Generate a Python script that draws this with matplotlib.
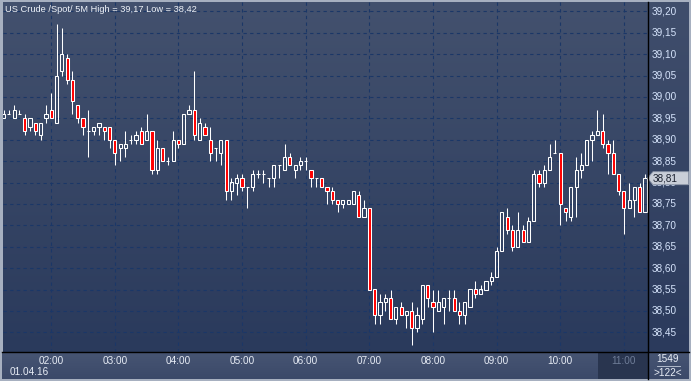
import matplotlib
matplotlib.use("Agg")
import matplotlib.pyplot as plt
import numpy as np
from matplotlib.patches import Rectangle, Polygon
from matplotlib.colors import LinearSegmentedColormap

# ---------------- data (5-minute candles, first candle 01:15) ----------------
opens = [38.95, 38.96, 38.95, 38.96, 38.95, 38.93, 38.94, 38.91, 38.95, 38.97,
         38.94, 39.06, 39.09, 39.04, 38.98, 38.95, 38.92, 38.92, 38.93, 38.93,
         38.93, 38.90, 38.88, 38.88, 38.90, 38.90, 38.92, 38.90, 38.92, 38.83,
         38.88, 38.85, 38.85, 38.90, 38.89, 38.96, 38.97, 38.90, 38.93, 38.90,
         38.88, 38.87, 38.90, 38.78, 38.80, 38.81, 38.79, 38.79, 38.82, 38.82,
         38.81, 38.81, 38.84, 38.83, 38.86, 38.83, 38.84, 38.85, 38.83, 38.81,
         38.81, 38.79, 38.78, 38.76, 38.75, 38.75, 38.75, 38.77, 38.72, 38.74,
         38.55, 38.49, 38.52, 38.53, 38.48, 38.51, 38.49, 38.50, 38.46, 38.48,
         38.56, 38.52, 38.50, 38.51, 38.53, 38.53, 38.50, 38.49, 38.51, 38.55,
         38.54, 38.55, 38.57, 38.58, 38.64, 38.72, 38.69, 38.65, 38.69, 38.66,
         38.71, 38.82, 38.80, 38.83, 38.87, 38.87, 38.74, 38.72, 38.79, 38.83,
         38.84, 38.90, 38.91, 38.92, 38.89, 38.87, 38.82, 38.78, 38.74, 38.76,
         38.79, 38.73]
highs = [38.97, 38.97, 38.98, 38.97, 38.96, 38.95, 38.94, 38.94, 38.98, 39.01,
         39.17, 39.16, 39.10, 39.06, 38.98, 38.95, 38.97, 38.93, 38.94, 38.93,
         38.93, 38.90, 38.89, 38.92, 38.91, 38.92, 38.93, 38.96, 38.92, 38.90,
         38.88, 38.86, 38.92, 38.90, 38.96, 38.98, 39.06, 38.95, 38.94, 38.93,
         38.88, 38.90, 38.90, 38.81, 38.82, 38.82, 38.79, 38.83, 38.83, 38.83,
         38.81, 38.84, 38.84, 38.89, 38.87, 38.84, 38.86, 38.86, 38.83, 38.81,
         38.81, 38.79, 38.79, 38.76, 38.76, 38.76, 38.78, 38.78, 38.76, 38.74,
         38.55, 38.54, 38.54, 38.55, 38.51, 38.52, 38.50, 38.52, 38.51, 38.56,
         38.56, 38.55, 38.55, 38.53, 38.55, 38.55, 38.52, 38.52, 38.55, 38.57,
         38.56, 38.57, 38.59, 38.65, 38.73, 38.74, 38.70, 38.73, 38.70, 38.72,
         38.83, 38.83, 38.84, 38.89, 38.90, 38.87, 38.74, 38.79, 38.86, 38.87,
         38.90, 38.92, 38.97, 38.96, 38.90, 38.90, 38.82, 38.78, 38.80, 38.79,
         38.80, 38.82]
lows = [38.95, 38.96, 38.95, 38.96, 38.91, 38.92, 38.91, 38.90, 38.94, 38.95,
        38.94, 39.05, 39.03, 38.96, 38.94, 38.91, 38.86, 38.91, 38.91, 38.90,
        38.88, 38.84, 38.85, 38.86, 38.89, 38.89, 38.89, 38.90, 38.82, 38.82,
        38.85, 38.84, 38.85, 38.88, 38.89, 38.96, 38.90, 38.90, 38.91, 38.85,
        38.85, 38.84, 38.76, 38.76, 38.77, 38.78, 38.74, 38.78, 38.81, 38.80,
        38.79, 38.79, 38.81, 38.83, 38.84, 38.81, 38.83, 38.83, 38.79, 38.79,
        38.79, 38.75, 38.75, 38.73, 38.74, 38.75, 38.75, 38.72, 38.72, 38.55,
        38.47, 38.47, 38.50, 38.48, 38.47, 38.49, 38.46, 38.42, 38.45, 38.47,
        38.51, 38.45, 38.50, 38.47, 38.50, 38.50, 38.47, 38.47, 38.51, 38.53,
        38.54, 38.55, 38.56, 38.58, 38.64, 38.68, 38.64, 38.65, 38.66, 38.66,
        38.71, 38.79, 38.79, 38.83, 38.87, 38.70, 38.71, 38.71, 38.72, 38.81,
        38.84, 38.85, 38.91, 38.88, 38.82, 38.82, 38.77, 38.68, 38.74, 38.72,
        38.73, 38.73]
closes = [38.96, 38.96, 38.97, 38.96, 38.92, 38.95, 38.92, 38.94, 38.96, 38.95,
          39.05, 39.10, 39.04, 38.99, 38.95, 38.93, 38.92, 38.93, 38.94, 38.92,
          38.90, 38.87, 38.89, 38.89, 38.90, 38.91, 38.89, 38.92, 38.83, 38.88,
          38.85, 38.85, 38.90, 38.89, 38.96, 38.97, 38.91, 38.94, 38.91, 38.87,
          38.88, 38.90, 38.78, 38.80, 38.81, 38.79, 38.79, 38.82, 38.82, 38.82,
          38.81, 38.84, 38.84, 38.86, 38.84, 38.84, 38.85, 38.85, 38.81, 38.81,
          38.79, 38.78, 38.76, 38.75, 38.76, 38.76, 38.78, 38.72, 38.74, 38.55,
          38.49, 38.52, 38.53, 38.48, 38.51, 38.49, 38.50, 38.46, 38.49, 38.56,
          38.53, 38.51, 38.52, 38.53, 38.53, 38.50, 38.49, 38.52, 38.55, 38.54,
          38.55, 38.57, 38.58, 38.64, 38.73, 38.69, 38.65, 38.69, 38.66, 38.71,
          38.82, 38.80, 38.83, 38.86, 38.87, 38.75, 38.73, 38.79, 38.83, 38.84,
          38.90, 38.91, 38.92, 38.89, 38.87, 38.82, 38.78, 38.74, 38.76, 38.79,
          38.73, 38.81]

hour_labels = ["02:00", "03:00", "04:00", "05:00", "06:00", "07:00", "08:00",
               "09:00", "10:00", "11:00"]
price_ticks = [39.20, 39.15, 39.10, 39.05, 39.00, 38.95, 38.90, 38.85, 38.80,
               38.75, 38.70, 38.65, 38.60, 38.55, 38.50, 38.45]
title = "US Crude /Spot/ 5M High = 39,17 Low = 38,42"
date_label = "01.04.16"
last_price = 38.81
corner_top = "1549"
corner_bottom = ">122<"

# ---------------- layout ----------------
W, H = 691, 381
FONT = "Liberation Sans"
FS = 7.2
FS_TITLE = 6.7
fig = plt.figure(figsize=(W / 100, H / 100), dpi=100, facecolor="#a7b0c0")


def add_px(x0, y0, x1, y1, z=1):
    a = fig.add_axes([x0 / W, 1 - y1 / H, (x1 - x0) / W, (y1 - y0) / H])
    a.set_zorder(z)
    a.set_axis_off()
    return a


def gradient(a, top, bottom):
    cmap = LinearSegmentedColormap.from_list("g", [bottom, top])
    g = np.linspace(0, 1, 256).reshape(-1, 1)
    a.imshow(g, extent=[0, 1, 0, 1], transform=a.transAxes, aspect="auto",
             cmap=cmap, origin="lower", zorder=0, interpolation="bilinear")


PL, PR, PT, PB = 3, 648, 2, 352
n = len(opens)
step_px = 5.302
x0_px = 3.5
ylim_top = 39.20 + (11.3 - PT) / 428.0
ylim_bot = 39.20 - (PB - 11.3) / 428.0
xlim_l = (PL - x0_px) / step_px
xlim_r = (PR - x0_px) / step_px

ax = add_px(PL, PT, PR, PB, z=2)
gradient(ax, "#43516e", "#2a3a5c")
ax.set_xlim(xlim_l, xlim_r)
ax.set_ylim(ylim_bot, ylim_top)

grid_c = "#1b3767"
hour_idx = [(int(h[:2]) * 60 - 75) / 5 for h in hour_labels]
for p in price_ticks:
    ax.axhline(p, color=grid_c, lw=0.8, ls=(0, (3, 3)), zorder=1)
for hx in hour_idx:
    ax.axvline(hx, color=grid_c, lw=0.8, ls=(0, (3, 3)), zorder=1)

bw = 0.6
lw = 0.75
for i in range(n):
    o, h, l, c = opens[i], highs[i], lows[i], closes[i]
    top, bot = max(o, c), min(o, c)
    if h > top:
        ax.plot([i, i], [top, h], color="white", lw=lw, zorder=3,
                solid_capstyle="butt")
    if l < bot:
        ax.plot([i, i], [l, bot], color="white", lw=lw, zorder=3,
                solid_capstyle="butt")
    if abs(c - o) < 1e-9:
        ax.plot([i - bw / 2, i + bw / 2], [o, o], color="white", lw=lw,
                zorder=4, solid_capstyle="butt")
    else:
        fc = "#ff0000" if c < o else "none"
        ax.add_patch(Rectangle((i - bw / 2, bot), bw, top - bot, facecolor=fc,
                               edgecolor="white", lw=lw, zorder=4))

# title
fig.text(5 / W, 1 - 9 / H, title, fontsize=FS_TITLE, color="#eef2f8",
         family=FONT, va="center", ha="left", zorder=10)

# right price axis panel
rax = add_px(PR, PT, 689, PB, z=2)
gradient(rax, "#404e6c", "#2b3a5c")
rax.set_xlim(0, 1)
rax.set_ylim(ylim_bot, ylim_top)
for p in price_ticks:
    rax.text(4 / 41, p, f"{p:.2f}".replace(".", ","), fontsize=FS,
             color="#d6e4fc", family=FONT, va="center", ha="left", zorder=2)

# last price marker
my = H - ax.transData.transform((0, last_price))[1]
pts_px = [(PR - 0.5, my), (PR + 5, my - 6.5), (688.5, my - 6.5),
          (688.5, my + 6.5), (PR + 5, my + 6.5)]
poly = Polygon([(x / W, 1 - y / H) for x, y in pts_px], closed=True,
               transform=fig.transFigure, facecolor="#c9ced8",
               edgecolor="#8d96a8", lw=0.6, zorder=20)
fig.add_artist(poly)
fig.text(653 / W, 1 - (my + 0.3) / H, f"{last_price:.2f}".replace(".", ","),
         fontsize=FS, color="#1c2230", family=FONT, va="center", ha="left",
         zorder=21)

# bottom time panel
bax = add_px(PL - 1, PB, 689, 379, z=2)
gradient(bax, "#475573", "#3b4969")
bax.set_xlim(0, 1)
bax.set_ylim(0, 1)
span = 689 - PL + 1
bax.add_patch(Rectangle(((598 - PL + 1) / span, 0), (PR - 598) / span, 1,
                        transform=bax.transAxes, facecolor="#29354f",
                        edgecolor="none", zorder=1))

for lab, hx in zip(hour_labels, hour_idx):
    xpx = x0_px + hx * step_px
    col = "#6f7d98" if lab == "11:00" else "#e8edf6"
    fig.text(xpx / W, 1 - 361 / H, lab, fontsize=FS, color=col, family=FONT,
             va="center", ha="center", zorder=10)
fig.text(10 / W, 1 - 372 / H, date_label, fontsize=FS, color="#e8edf6",
         family=FONT, va="center", ha="left", zorder=10)
fig.text(668 / W, 1 - 359 / H, corner_top, fontsize=FS, color="#e8edf6",
         family=FONT, va="center", ha="center", zorder=10)
fig.text(668 / W, 1 - 372.5 / H, corner_bottom, fontsize=FS, color="#e8edf6",
         family=FONT, va="center", ha="center", zorder=10)
fig.add_artist(plt.Line2D([657 / W, 680 / W], [1 - 365.5 / H, 1 - 365.5 / H],
                          color="#c4ccda", lw=0.6, zorder=10))

# separating black lines
fig.add_artist(plt.Line2D([PR / W, PR / W], [1 - PT / H, 1 - 379 / H],
                          color="black", lw=1.0, zorder=30))
fig.add_artist(plt.Line2D([(PL - 1) / W, 689 / W], [1 - PB / H, 1 - PB / H],
                          color="black", lw=1.0, zorder=30))

fig.savefig("out.png", dpi=100, facecolor=fig.get_facecolor())
